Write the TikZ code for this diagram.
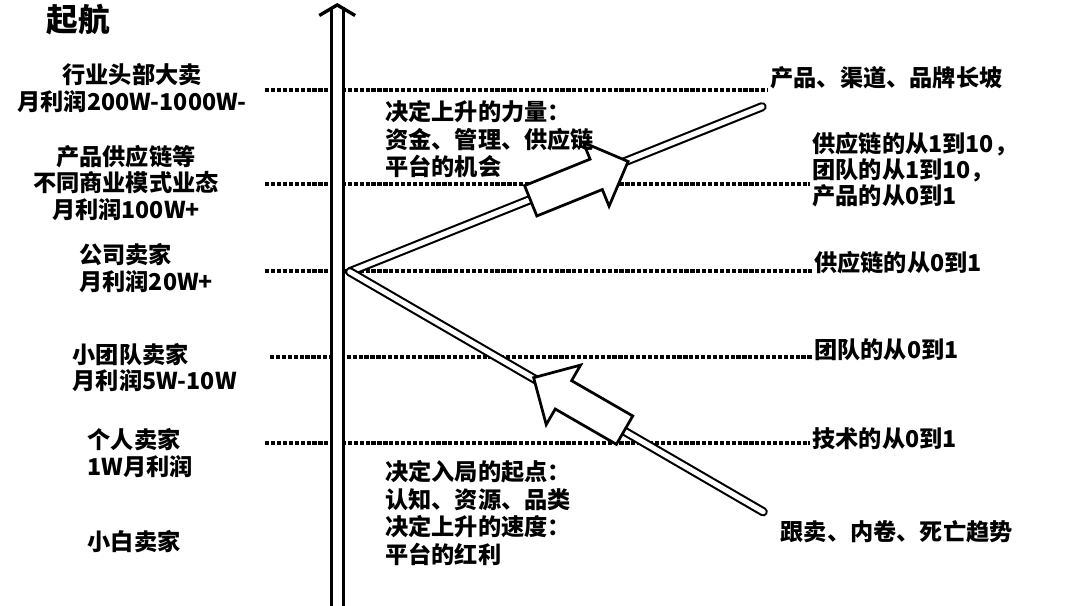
\documentclass[tikz,border=0pt]{standalone}
\usepackage{fontspec}
\setmainfont{Noto Sans CJK SC}
\usepackage{tikz}
\usetikzlibrary{arrows.meta, shapes.arrows, positioning}

\begin{document}
\begin{tikzpicture}[
  font=\fontsize{11}{12.5}\selectfont\bfseries,
  tier/.style={inner sep=1pt, align=center},
  tierl/.style={inner sep=1pt, align=left, anchor=west},
  note/.style={inner sep=1pt, align=left, anchor=west,
               font=\fontsize{11}{13.2}\selectfont\bfseries},
  stage/.style={inner sep=1pt, align=left, anchor=west},
  level/.style={line width=1.7pt, dash pattern=on 2pt off 0.8pt},
  axis/.style={double, line width=1.4pt, double distance=4.2pt,
               -{Straight Barb[length=5pt, width=17pt, line width=1.6pt]}},
  trend/.style={double, line width=1pt, double distance=2.4pt, line cap=round},
  push/.style={single arrow, draw, fill=white, line width=1.3pt,
               inner xsep=0pt, inner ysep=0.25cm, minimum height=1.75cm,
               single arrow head extend=0.3cm}
]
\useasboundingbox (0,0) rectangle (18,10.1);

% Nodes
\node[font=\fontsize{15}{15}\selectfont\bfseries] (title) at (1.3,9.77) {起航};
\node[tier]  (t1) at (2.2,8.63)  {行业头部大卖\\月利润200W-1000W-};
\node[tier]  (t2) at (2.1,7.05)  {产品供应链等\\不同商业模式业态\\月利润100W+};
\node[tierl] (t3) at (1.28,5.63) {公司卖家\\月利润20W+};
\node[tierl] (t4) at (1.17,3.97) {小团队卖家\\月利润5W-10W};
\node[tierl] (t5) at (1.42,2.55) {个人卖家\\1W月利润};
\node[tierl] (t6) at (1.42,1.07) {小白卖家};

\node[stage] (s1) at (12.8,8.8)   {产品、渠道、品牌长坡};
\node[stage] (s2) at (13.5,7.27)  {供应链的从1到10，\\团队的从1到10，\\产品的从0到1};
\node[stage] (s3) at (13.53,5.73) {供应链的从0到1};
\node[stage] (s4) at (13.53,4.27) {团队的从0到1};
\node[stage] (s5) at (13.5,2.78)  {技术的从0到1};
\node[stage] (s6) at (12.97,1.23) {跟卖、内卷、死亡趋势};

% Helper coordinates
\coordinate (l1) at (4.42,8.6);
\coordinate (l2) at (4.42,7.03);
\coordinate (l3) at (4.42,5.58);
\coordinate (l4) at (4.5,4.15);
\coordinate (l5) at (4.42,2.72);
\coordinate (base) at (5.62,0);
\coordinate (top) at (5.62,10.05);
\coordinate (apex) at (5.83,5.57);
\coordinate (hi) at (12.7,8.32);
\coordinate (lo) at (12.72,1.57);

% Level lines
\draw[level] (l1) -- (l1 -| s1.west);
\draw[level] (l2) -- (l2 -| s2.west);
\draw[level] (l3) -- (l3 -| s3.west);
\draw[level] (l4) -- (l4 -| s4.west);
\draw[level] (l5) -- (l5 -| s5.west);

% Axis
\draw[axis] (base) -- (top);

% Trend lines
\draw[trend] (apex) -- (hi);
\draw[trend] (apex) -- (lo);

% Block arrows on the trends
\node[push, rotate=22]  (up)   at (9.53,7.03) {};
\node[push, rotate=150] (back) at (9.77,3.3)  {};

% Middle notes, on top
\node[note] (rise)  at (6.38,7.78) {决定上升的力量：\\资金、管理、供应链\\平台的机会};
\node[note] (entry) at (6.38,1.55) {决定入局的起点：\\认知、资源、品类\\决定上升的速度：\\平台的红利};

\end{tikzpicture}
\end{document}
